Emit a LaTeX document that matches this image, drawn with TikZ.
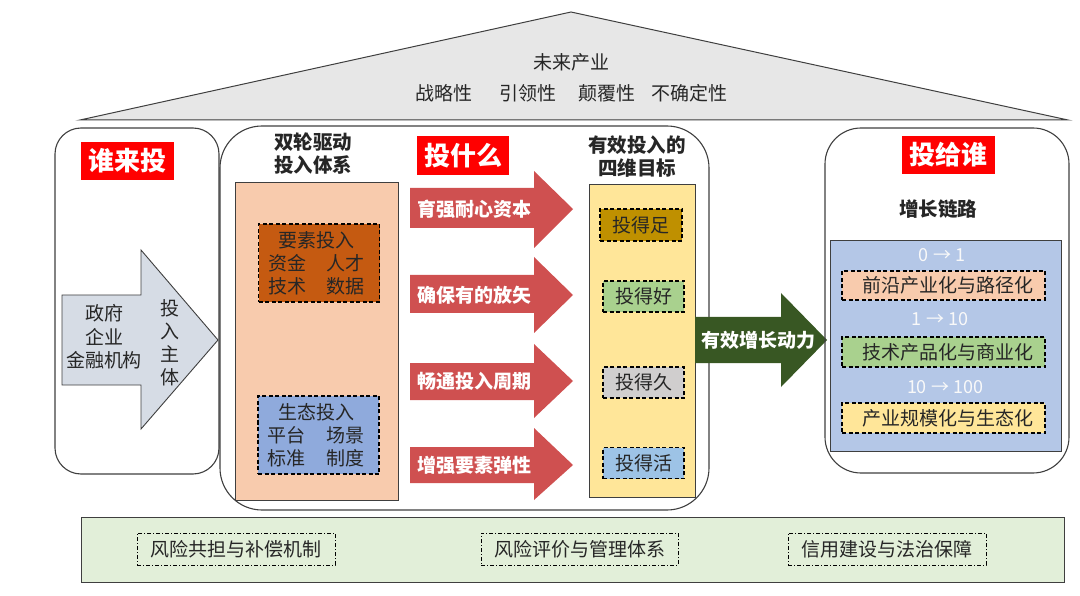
\documentclass[tikz,border=0pt]{standalone}
\usepackage{fontspec}
\setmainfont{Noto Sans CJK SC}
\newcommand{\fsz}[2]{\fontsize{#1}{#2}\selectfont}
\definecolor{roofgray}{HTML}{E7E7E7}
\definecolor{linegray}{HTML}{3F3F3F}
\definecolor{arrgray}{HTML}{D6DCE5}
\definecolor{labred}{HTML}{FF0000}
\definecolor{peach}{HTML}{F8CBAD}
\definecolor{rust}{HTML}{C55A11}
\definecolor{eco}{HTML}{8FAADC}
\definecolor{arrred}{HTML}{CF5050}
\definecolor{goalyel}{HTML}{FFE699}
\definecolor{gold}{HTML}{BF9000}
\definecolor{lgreen}{HTML}{A9D18E}
\definecolor{lgray}{HTML}{D0CECE}
\definecolor{lblue}{HTML}{9DC3E6}
\definecolor{dgreen}{HTML}{385723}
\definecolor{chainblue}{HTML}{B4C7E7}
\definecolor{basegreen}{HTML}{E2EFD9}
\definecolor{txtc}{HTML}{262626}
\tikzset{
  frame/.style={draw=linegray, line width=1.1pt},
  txt/.style={inner sep=0pt, text=txtc, font=\fsz{19}{23}, align=center},
  btxt/.style={txt, font=\fsz{19.5}{23}\bfseries},
  wtxt/.style={inner sep=0pt, text=white, font=\fsz{19}{21}\bfseries},
  redlab/.style={fill=labred, inner sep=0pt, text=white, font=\fsz{26}{28}\bfseries},
  dbox/.style={draw=black, line width=1.1pt, dash pattern=on 4pt off 2.5pt, inner sep=0pt, text=txtc, font=\fsz{19}{23}},
  ddbox/.style={draw=black, line width=0.9pt, dash pattern=on 4pt off 2pt on 1pt off 2pt, inner sep=0pt, text=txtc, font=\fsz{19}{23}},
  numtxt/.style={inner sep=0pt, text=white!95!gray, font=\fsz{18}{22}},
}
\begin{document}
\begin{tikzpicture}[x=1pt,y=-1pt]
\useasboundingbox (0,0) rectangle (1080,596);
% roof
\draw[frame, fill=roofgray, line width=1pt] (80,120) -- (571,12) -- (1068,120) -- cycle;
\node[txt] (roof) at (571,62) {未来产业};
\node[txt] (r1) at (444,93) {战略性};
\node[txt] (r2) at (528,93) {引领性};
\node[txt] (r3) at (607,93) {颠覆性};
\node[txt] (r4) at (689,93) {不确定性};

% left box
\draw[frame, rounded corners=26pt] (55,128) rectangle (219,474);
\node[redlab, minimum width=93pt, minimum height=38pt] (who) at (127.5,161) {谁来投};
\draw[draw=linegray, line width=0.9pt, fill=arrgray]
  (62,295) -- (141,295) -- (141,250) -- (218,340) -- (141,429) -- (141,385) -- (62,385) -- cycle;
\node[txt, font=\fsz{19}{23.5}] (subj) at (104,337) {政府\\企业\\金融机构};
\node[txt, font=\fsz{19}{23}] (subjv) at (170,343) {投\\入\\主\\体};

% middle box
\draw[frame, rounded corners=42pt] (220,126) rectangle (709,510);
\node[btxt] (dual) at (313,154) {双轮驱动\\投入体系};
\draw[draw=linegray, line width=1pt, fill=peach] (235,183) rectangle (398,500);
\node[dbox, fill=rust, minimum width=121pt, minimum height=78pt] (ys) at (319,263) {};
\node[txt, font=\fsz{19}{23}] (yst) at (316.5,263) {要素投入\\资金\hspace{1.1em}人才\\技术\hspace{1.1em}数据};
\node[dbox, fill=eco, minimum width=121pt, minimum height=78pt] (st) at (318.5,435) {};
\node[txt, font=\fsz{19}{23}] (stt) at (316,435) {生态投入\\平台\hspace{1.1em}场景\\标准\hspace{1.1em}制度};

\node[redlab, minimum width=92pt, minimum height=39pt] (what) at (463,155.5) {投什么};
% red arrows
\foreach \i/\ytop/\ybot/\htop/\hbot/\ytip/\lab in {
  1/188/228/171/248/209/育强耐心资本,
  2/275/313/257/333/295/确保有的放矢,
  3/363/400/344/418/381/畅通投入周期,
  4/447/483/428/500/465/增强要素弹性}{
  \draw[draw=none, fill=arrred] (410,\ytop) -- (534,\ytop) -- (534,\htop) -- (573,\ytip) -- (534,\hbot) -- (534,\ybot) -- (410,\ybot) -- cycle;
  \node[wtxt] (ra\i) at (474,\ytip) {\lab};
}

\node[btxt] (goal) at (637,156.5) {有效投入的\\四维目标};
\draw[draw=linegray, line width=1pt, fill=goalyel] (589,185) rectangle (695,497);
\node[dbox, fill=gold, minimum width=82pt, minimum height=32pt] (g1) at (641,225) {投得足};
\node[dbox, fill=lgreen, minimum width=81pt, minimum height=31pt] (g2) at (643.5,296.5) {投得好};
\node[dbox, fill=lgray, minimum width=81pt, minimum height=31pt] (g3) at (643.5,382.5) {投得久};
\node[dbox, fill=lblue, minimum width=81pt, minimum height=31pt] (g4) at (643.5,463) {投得活};

% green arrow
\draw[draw=none, fill=dgreen] (695,317) -- (781,317) -- (781,293) -- (827,340) -- (781,387) -- (781,363) -- (695,363) -- cycle;
\node[wtxt] (grow) at (758,340) {有效增长动力};

% right box
\draw[frame, rounded corners=36pt] (825,128) rectangle (1069,473);
\node[redlab, minimum width=93pt, minimum height=38pt] (whom) at (948,155) {投给谁};
\node[btxt] (chain) at (938,209) {增长链路};
\draw[draw=linegray, line width=1pt, fill=chainblue] (830,241) rectangle (1061,451);
\node[numtxt] (n1) at (942,255) {0 → 1};
\node[dbox, fill=peach, minimum width=203pt, minimum height=29pt] (c1) at (943.5,285.5) {\hspace{8pt}前沿产业化与路径化};
\node[numtxt] (n2) at (940,319) {1 → 10};
\node[dbox, fill=lgreen, minimum width=203pt, minimum height=30pt] (c2) at (943.5,352) {\hspace{8pt}技术产品化与商业化};
\node[numtxt] (n3) at (945,387) {10 → 100};
\node[dbox, fill=goalyel, minimum width=203pt, minimum height=30pt] (c3) at (943.5,418) {\hspace{8pt}产业规模化与生态化};

% base
\draw[frame, fill=basegreen, line width=1pt] (81,517) rectangle (1064,582);
\node[ddbox, minimum width=198pt, minimum height=32pt] (b1) at (236,549) {风险共担与补偿机制};
\node[ddbox, minimum width=197pt, minimum height=32pt] (b2) at (579.5,549) {风险评价与管理体系};
\node[ddbox, minimum width=198pt, minimum height=32pt] (b3) at (887,549) {信用建设与法治保障};
\end{tikzpicture}
\end{document}
